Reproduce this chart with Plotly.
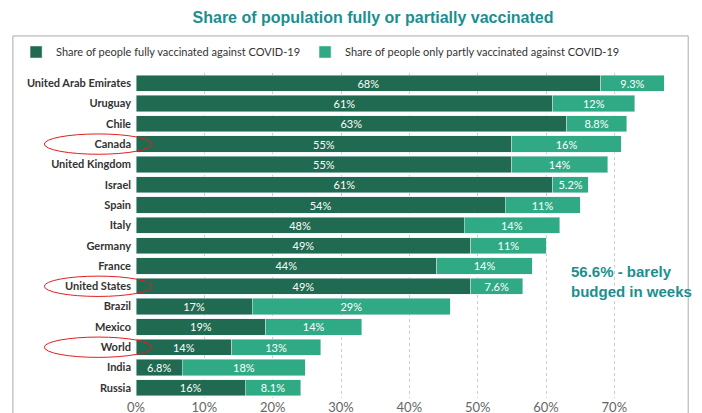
import plotly.graph_objects as go

countries = ["United Arab Emirates", "Uruguay", "Chile", "Canada", "United Kingdom", "Israel",
             "Spain", "Italy", "Germany", "France", "United States", "Brazil", "Mexico",
             "World", "India", "Russia"]
fully = [68, 61, 63, 55, 55, 61, 54, 48, 49, 44, 49, 17, 19, 14, 6.8, 16]
partly = [9.3, 12, 8.8, 16, 14, 5.2, 11, 14, 11, 14, 7.6, 29, 14, 13, 18, 8.1]
ticks = [0, 10, 20, 30, 40, 50, 60, 70]

def fmt(v):
    return f"{v:g}%"

fig = go.Figure()
fig.add_trace(go.Bar(y=countries, x=fully, orientation="h", marker_color="#1f6a50",
                     name="Share of people fully vaccinated against COVID-19",
                     text=[fmt(v) for v in fully], textposition="inside", insidetextanchor="middle",
                     constraintext="none", textfont=dict(color="white", size=11)))
fig.add_trace(go.Bar(y=countries, x=partly, orientation="h", marker_color="#2faa85",
                     name="Share of people only partly vaccinated against COVID-19",
                     text=[fmt(v) for v in partly], textposition="inside", insidetextanchor="middle",
                     constraintext="none", textfont=dict(color="white", size=11)))

shapes = [dict(type="rect", xref="paper", yref="paper", x0=-0.231, x1=1.036, y0=-0.2, y1=1.114,
               line=dict(color="#aaaaaa", width=1), layer="below")]
for c in ["Canada", "United States", "World"]:
    i = countries.index(c)
    shapes.append(dict(type="circle", xref="paper", yref="y", x0=-0.172, x1=0.03,
                       y0=i - 0.5, y1=i + 0.5, line=dict(color="#e02020", width=1)))

fig.update_layout(
    width=702, height=413, barmode="stack", bargap=0.2,
    margin=dict(l=128, r=41, t=65, b=23, autoexpand=False),
    plot_bgcolor="white", paper_bgcolor="white",
    font=dict(family="Lato, Arial", size=11, color="#444"),
    title=dict(text="<b>Share of population fully or partially vaccinated</b>", x=0.52, y=0.99,
               xanchor="center", yanchor="top",
               font=dict(family="Liberation Sans, Arial", size=16, color="#1b8f8f")),
    legend=dict(orientation="h", x=-0.225, y=1.02, xanchor="left", yanchor="bottom",
                font=dict(size=11, color="#333"), traceorder="normal"),
    xaxis=dict(range=[0, 78], tickvals=ticks, ticktext=[f"{t}%" for t in ticks],
               showgrid=True, gridcolor="#cccccc", griddash="dot", zeroline=False, automargin=False,
               tickfont=dict(size=13, color="#666")),
    yaxis=dict(autorange="reversed", automargin=False,
               tickfont=dict(size=11, color="#333", weight="bold"), ticklabelstandoff=4),
    shapes=shapes,
    annotations=[dict(text="<b>56.6% - barely<br>budged in weeks</b>", xref="paper", yref="paper",
                      x=0.93, y=0.36, xanchor="center", yanchor="middle", showarrow=False,
                      align="left", font=dict(family="Liberation Sans, Arial", size=15, color="#1b8f8f"))],
)
fig.write_html("out.html")
